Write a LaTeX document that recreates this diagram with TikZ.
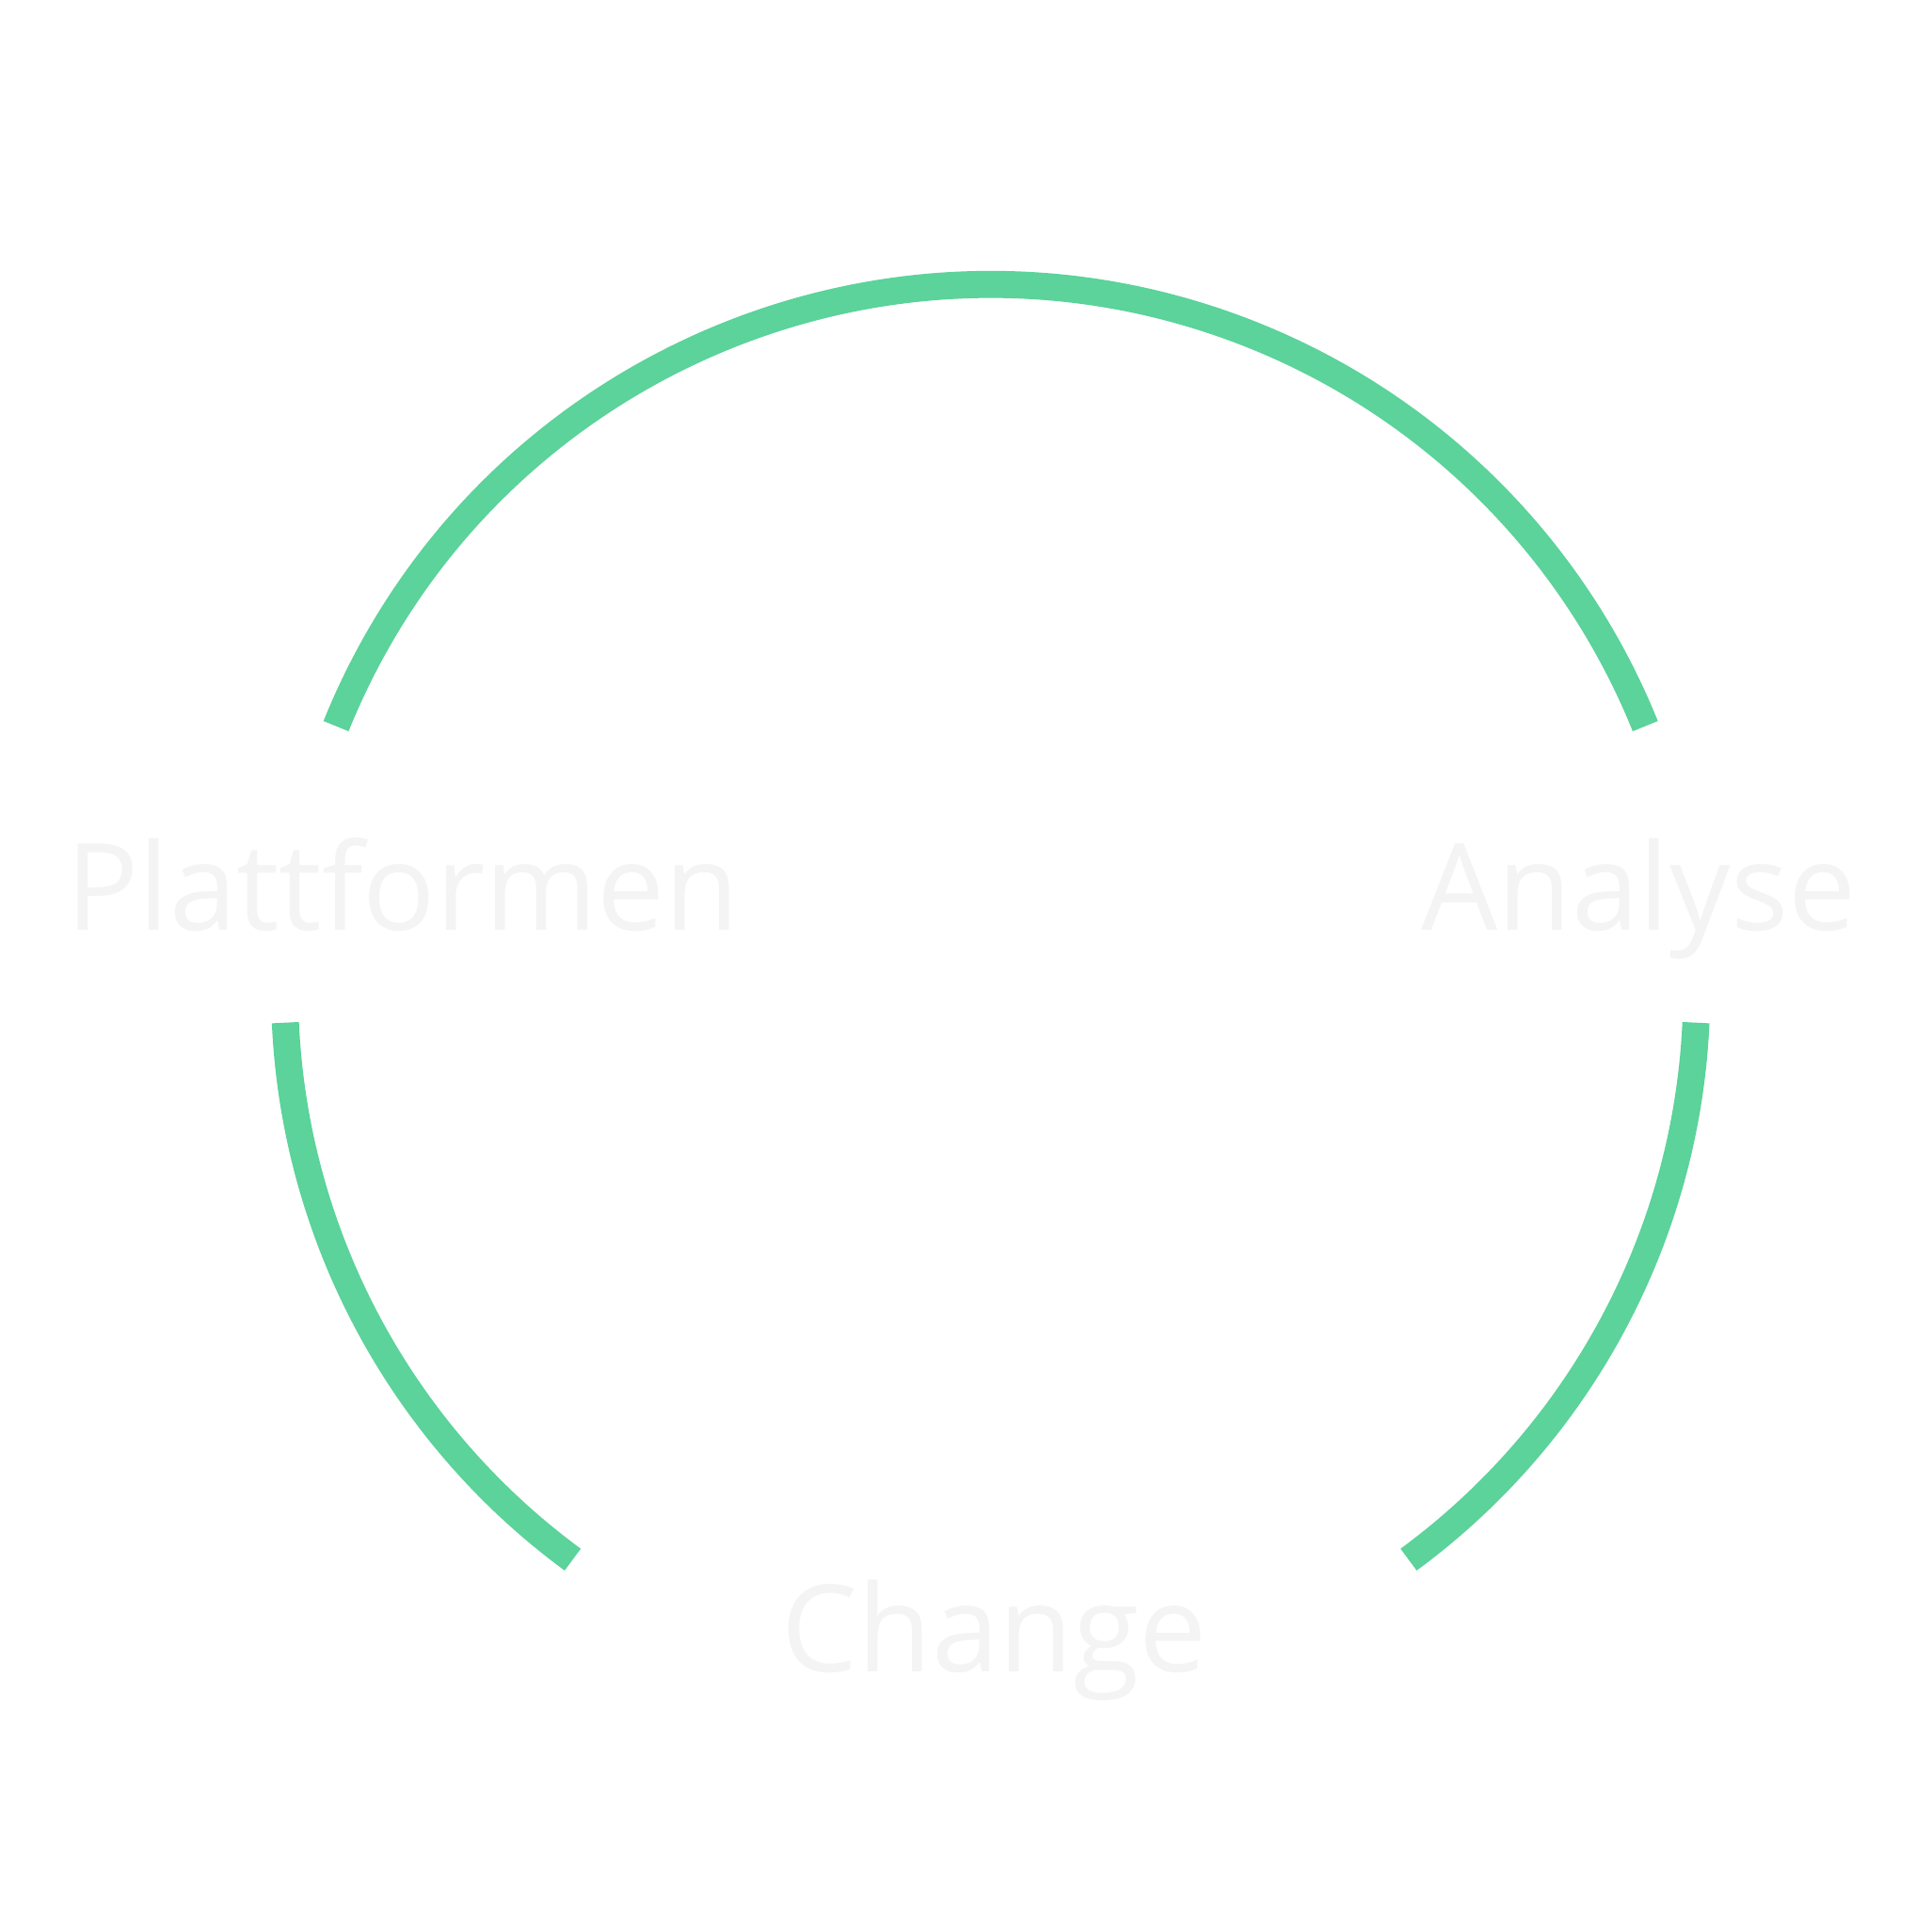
\documentclass[tikz,border=0pt]{standalone}
\usepackage{fontspec}
\setmainfont{Open Sans}
\definecolor{ring}{HTML}{5BD39A}
\definecolor{lbl}{HTML}{F4F4F4}
\begin{document}
\begin{tikzpicture}[x=0.5pt,y=0.5pt,
  arcst/.style={draw=ring,line width=11pt},
  lab/.style={text=lbl,font=\fontsize{49}{50}\selectfont,anchor=base,inner sep=0pt}]
\useasboundingbox[fill=white] (0,0) rectangle (1568,1568);
\coordinate (c) at (804,764);
\draw[arcst] ([shift={(158:286.5pt)}]c) arc[start angle=158,end angle=22,radius=286.5pt];
\draw[arcst] ([shift={(182.6:286.5pt)}]c) arc[start angle=182.6,end angle=233.7,radius=286.5pt];
\draw[arcst] ([shift={(-53.7:286.5pt)}]c) arc[start angle=-53.7,end angle=-2.6,radius=286.5pt];
\node[lab] (p) at (327,813) {Plattformen};
\node[lab] (a) at (1330,813) {Analyse};
\node[lab] (ch) at (807,211) {Change};
\end{tikzpicture}
\end{document}
